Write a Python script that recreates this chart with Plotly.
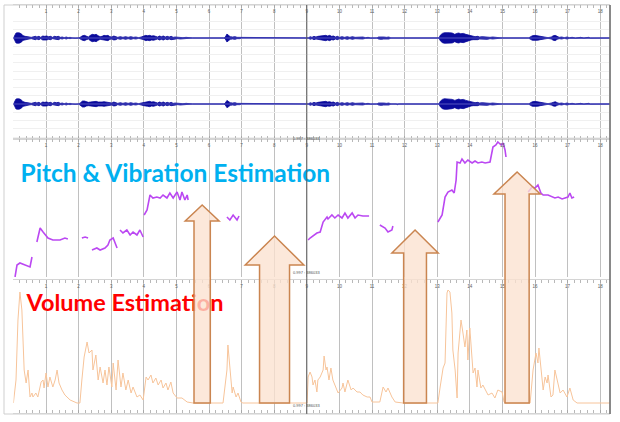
import numpy as np
import plotly.graph_objects as go

# ---------------- data ----------------
# waveform envelope (normalised amplitude) for both channels
wave_t = [0.00, 0.04, 0.08, 0.14, 0.20, 0.26, 0.30, 0.36, 0.42, 0.48,
          0.55, 0.62, 0.68, 0.72, 0.78, 0.84, 0.90, 0.96, 1.02, 1.08,
          1.14, 1.20, 1.26, 1.32, 1.38, 1.44, 1.50, 1.56, 1.62, 1.68,
          1.74, 1.80, 1.90, 2.00, 2.06, 2.12, 2.18, 2.24, 2.30, 2.36,
          2.42, 2.48, 2.54, 2.60, 2.66, 2.72, 2.78, 2.84, 2.90, 2.96,
          3.02, 3.08, 3.14, 3.20, 3.28, 3.36, 3.44, 3.52, 3.60, 3.68,
          3.76, 3.84, 3.92, 4.00, 4.06, 4.12, 4.18, 4.24, 4.30, 4.36,
          4.42, 4.48, 4.54, 4.60, 4.66, 4.72, 4.78, 4.84, 4.90, 4.96,
          5.04, 5.12, 5.20, 5.30, 5.40, 5.50, 6.45, 6.50, 6.55, 6.60,
          6.65, 6.72, 6.80, 6.86, 6.94, 7.00, 9.05, 9.10, 9.16, 9.22,
          9.28, 9.34, 9.40, 9.46, 9.52, 9.58, 9.64, 9.70, 9.76, 9.82,
          9.88, 9.94, 10.00, 10.08, 10.16, 10.24, 10.32, 10.40, 10.48, 10.56,
          10.64, 10.72, 10.80, 10.88, 10.96, 11.15, 11.20, 11.28, 11.36, 11.44,
          11.52, 11.58, 11.74, 11.78, 11.82, 13.05, 13.10, 13.16, 13.22, 13.30,
          13.38, 13.46, 13.54, 13.60, 13.66, 13.72, 13.80, 13.88, 13.96, 14.04,
          14.10, 14.16, 14.24, 14.30, 14.38, 14.46, 14.54, 14.62, 14.70, 14.80,
          14.90, 15.00, 15.80, 15.86, 15.92, 16.00, 16.08, 16.16, 16.22, 16.30,
          16.40, 16.50, 16.56, 16.62, 16.68, 16.74, 16.82, 16.90, 16.98, 17.06,
          17.14, 17.24, 17.40, 17.50, 17.64, 17.70, 18.30]
wave_left = [0, 0.07, 0.15, 0.16, 0.15, 0.11, 0.07, 0.05, 0.04, 0.03,
             0.02, 0.04, 0.05, 0.03, 0.05, 0.02, 0.06, 0.05, 0.06, 0.04,
             0.05, 0.02, 0.05, 0.04, 0.05, 0.02, 0.03, 0.01, 0.03, 0.01,
             0.02, 0, 0.01, 0, 0.03, 0.07, 0.08, 0.05, 0.03, 0.08,
             0.11, 0.10, 0.11, 0.07, 0.04, 0.05, 0.08, 0.07, 0.08, 0.04,
             0.03, 0.06, 0.05, 0.02, 0.04, 0.02, 0.04, 0.02, 0.04, 0.02,
             0.03, 0.01, 0.03, 0.05, 0.08, 0.07, 0.08, 0.06, 0.07, 0.05,
             0.03, 0.06, 0.04, 0.06, 0.03, 0.05, 0.03, 0.05, 0.02, 0.03,
             0.02, 0.03, 0.01, 0.02, 0.01, 0, 0, 0.03, 0.12, 0.08,
             0.04, 0.03, 0.04, 0.02, 0.02, 0, 0, 0.04, 0.02, 0.05,
             0.03, 0.05, 0.06, 0.08, 0.07, 0.08, 0.06, 0.08, 0.05, 0.06,
             0.03, 0.05, 0.02, 0.04, 0.02, 0.04, 0.02, 0.04, 0.02, 0.03,
             0.02, 0.03, 0.01, 0.02, 0, 0, 0.03, 0.04, 0.03, 0.02,
             0.03, 0, 0, 0.02, 0, 0, 0.09, 0.14, 0.16, 0.17,
             0.16, 0.15, 0.11, 0.14, 0.15, 0.13, 0.14, 0.11, 0.09, 0.06,
             0.05, 0.04, 0.05, 0.03, 0.04, 0.03, 0.04, 0.02, 0.03, 0.02,
             0.02, 0, 0, 0.04, 0.07, 0.08, 0.07, 0.05, 0.03, 0.02,
             0.01, 0.03, 0.07, 0.08, 0.04, 0.02, 0.03, 0.01, 0.03, 0.01,
             0.02, 0, 0.02, 0, 0.02, 0, 0]
wave_right = [0, 0.07, 0.15, 0.16, 0.15, 0.11, 0.07, 0.05, 0.04, 0.03,
              0.02, 0.04, 0.05, 0.03, 0.05, 0.02, 0.06, 0.05, 0.06, 0.04,
              0.05, 0.02, 0.05, 0.04, 0.05, 0.02, 0.03, 0.01, 0.03, 0.01,
              0.02, 0, 0.01, 0, 0.04, 0.09, 0.09, 0.06, 0.05, 0.06,
              0.07, 0.07, 0.08, 0.06, 0.05, 0.06, 0.07, 0.06, 0.07, 0.04,
              0.03, 0.06, 0.05, 0.02, 0.04, 0.02, 0.04, 0.02, 0.04, 0.02,
              0.03, 0.01, 0.03, 0.05, 0.07, 0.07, 0.08, 0.06, 0.07, 0.05,
              0.03, 0.06, 0.04, 0.06, 0.03, 0.05, 0.03, 0.05, 0.02, 0.03,
              0.02, 0.03, 0.01, 0.02, 0.01, 0, 0, 0.03, 0.11, 0.08,
              0.04, 0.03, 0.04, 0.02, 0.02, 0, 0, 0.04, 0.02, 0.05,
              0.03, 0.05, 0.06, 0.08, 0.07, 0.08, 0.06, 0.07, 0.05, 0.06,
              0.03, 0.05, 0.02, 0.04, 0.02, 0.04, 0.02, 0.04, 0.02, 0.03,
              0.02, 0.03, 0.01, 0.02, 0, 0, 0.03, 0.04, 0.03, 0.02,
              0.03, 0, 0, 0.02, 0, 0, 0.09, 0.14, 0.16, 0.16,
              0.16, 0.14, 0.11, 0.14, 0.15, 0.13, 0.14, 0.11, 0.09, 0.06,
              0.05, 0.04, 0.05, 0.03, 0.04, 0.03, 0.04, 0.02, 0.03, 0.02,
              0.02, 0, 0, 0.04, 0.07, 0.08, 0.07, 0.05, 0.03, 0.02,
              0.01, 0.03, 0.06, 0.07, 0.04, 0.02, 0.03, 0.01, 0.03, 0.01,
              0.02, 0, 0.02, 0, 0.02, 0, 0]

# pitch contour (None separates voiced segments)
pitch_t = [0.05, 0.11, 0.20, 0.36, 0.51, 0.57, None,
           0.72, 0.82, 0.91, 1.06, 1.21, 1.43, 1.58, 1.67, None,
           2.10, 2.20, 2.29, None,
           2.41, 2.56, 2.66, 2.81, 2.90, 2.96, 3.06, 3.18, None,
           3.27, 3.36, 3.48, 3.58, 3.67, 3.79, 3.88, 3.98, None,
           4.01, 4.10, 4.19, 4.28, 4.40, 4.50, 4.59, 4.71, 4.80, 4.90,
           5.02, 5.11, 5.17, 5.26, 5.33, 5.36, None,
           6.55, 6.64, 6.74, 6.86, 6.92, None,
           9.04, 9.10, 9.31, 9.41, 9.50, 9.62, 9.65, 9.77, 9.86, 9.96,
           10.08, 10.17, 10.26, 10.39, 10.48, 10.57, 10.72, 10.91, None,
           11.24, 11.40, 11.49, 11.61, 11.64, None,
           13.02, 13.15, 13.24, 13.33, 13.45, 13.52, 13.58, 13.61, 13.70, 13.76,
           13.85, 13.94, 14.07, 14.16, 14.25, 14.37, 14.47, 14.62, 14.71, 14.80,
           14.86, 14.96, 15.02, 15.08, 15.11, None,
           15.79, 15.91, 16.00, 16.09, 16.18, 16.25, 16.40, 16.52, 16.61, 16.71,
           16.83, 16.92, 17.01, 17.07, 17.13, 17.20]
pitch_v = [0, 12, 14, 12, 10, 20, None,
           35, 49, 45, 39, 37, 37, 39, 38, None,
           39, 40, 39, None,
           27, 29, 27, 29, 32, 37, 39, 29, None,
           47, 44, 47, 42, 45, 42, 47, 40, None,
           62, 67, 82, 79, 80, 79, 82, 79, 84, 79,
           85, 77, 85, 77, 82, 77, None,
           60, 57, 62, 57, 61, None,
           37, 39, 44, 45, 55, 60, 58, 62, 59, 62,
           59, 64, 59, 64, 59, 62, 61, 61, None,
           52, 49, 45, 47, 51, None,
           55, 62, 80, 85, 87, 84, 97, 115, 114, 118,
           114, 117, 114, 116, 114, 115, 114, 115, 130, 132,
           135, 132, 134, 127, 120, None,
           85, 90, 89, 92, 84, 82, 82, 80, 79, 80,
           78, 79, 80, 84, 79, 80]

# volume envelope
vol_t = [0.0, 0.08, 0.14, 0.20, 0.26, 0.33, 0.39, 0.45, 0.51, 0.57, 0.60, 0.69, 0.75,
         0.85, 0.91, 0.94, 1.00, 1.06, 1.12, 1.21, 1.28, 1.34, 1.40, 1.49, 1.58, 1.74,
         1.95, 2.04, 2.10, 2.17, 2.26, 2.32, 2.41, 2.44, 2.53, 2.60, 2.66, 2.75, 2.81,
         2.87, 2.93, 3.02, 3.06, 3.15, 3.21, 3.30, 3.36, 3.45, 3.52, 3.61, 3.67, 3.79,
         3.88, 3.98, 4.07, 4.13, 4.22, 4.28, 4.37, 4.44, 4.53, 4.59, 4.68, 4.74, 4.83,
         4.90, 5.02, 5.17, 5.33, 5.51, 6.43, 6.55, 6.58, 6.64, 6.71, 6.74, 6.83, 6.89,
         6.98, 7.04, 9.01, 9.04, 9.10, 9.16, 9.19, 9.25, 9.31, 9.34, 9.41, 9.50, 9.53,
         9.59, 9.62, 9.68, 9.74, 9.80, 9.86, 9.96, 10.08, 10.11, 10.17, 10.26, 10.36,
         10.42, 10.54, 10.63, 10.72, 10.85, 10.94, 11.00, 11.24, 11.34, 11.43, 11.49,
         11.61, 11.71, 11.95, 13.02, 13.09, 13.18, 13.24, 13.30, 13.33, 13.39, 13.45,
         13.48, 13.55, 13.61, 13.64, 13.73, 13.79, 13.85, 13.91, 13.94, 14.00, 14.07,
         14.10, 14.16, 14.22, 14.25, 14.34, 14.40, 14.50, 14.56, 14.68, 14.77, 14.86,
         14.99, 15.05, 15.08, 15.85, 15.94, 16.03, 16.09, 16.12, 16.18, 16.25, 16.31,
         16.37, 16.40, 16.49, 16.55, 16.61, 16.68, 16.77, 16.86, 16.98, 17.07, 17.17,
         17.29, 17.78, 18.30]
vol_v = [0, 23, 83, 111, 93, 33, 20, 33, 6, 10, 6, 10, 6,
         21, 23, 15, 30, 16, 26, 16, 23, 33, 20, 13, 8, 3,
         0, 0, 23, 46, 61, 50, 53, 33, 48, 23, 36, 20, 33,
         18, 36, 16, 40, 13, 43, 16, 30, 13, 23, 10, 16, 6,
         8, 3, 26, 23, 28, 20, 25, 18, 23, 15, 20, 13, 21,
         10, 5, 5, 1, 0, 0, 33, 58, 33, 10, 16, 6, 10,
         1, 0, 0, 26, 31, 26, 18, 23, 11, 23, 26, 33, 47,
         33, 36, 23, 35, 23, 18, 10, 15, 20, 11, 23, 13,
         15, 11, 11, 8, 6, 6, 1, 1, 16, 11, 15,
         6, 1, 0, 0, 16, 35, 40, 110, 113, 111, 90,
         53, 33, 5, 50, 83, 70, 56, 73, 43, 75, 36,
         30, 35, 16, 33, 15, 18, 11, 8, 10, 5, 13,
         11, 1, 0, 0, 33, 50, 40, 55, 36, 13, 26,
         20, 28, 6, 8, 33, 23, 10, 13, 6, 15, 3,
         0, 0, 0]

second_ticks = list(range(1, 19))
titles = ["Pitch & Vibration Estimation", "Volume Estimation"]

# highlight arrows: centre (s), head half-width, shaft half-width, tip / head-base / bottom (paper y)
arrow_x = [5.79, 8.01, 12.32, 15.45]
arrow_head_hw = [0.52, 0.90, 0.71, 0.71]
arrow_shaft_hw = [0.25, 0.46, 0.35, 0.37]
arrow_tip = [0.5142, 0.4408, 0.4550, 0.5924]
arrow_head_base = [0.4763, 0.3720, 0.4005, 0.5403]
arrow_bottom = 0.0450

# ---------------- figure ----------------
W, H = 620, 422
XL, XR = 13.4 / W, 610 / W
WAVE_DOM = [1 - 139 / H, 1 - 5 / H]
PITCH_DOM = [1 - 277 / H, 1 - 139 / H]
VOL_DOM = [1 - 413 / H, 1 - 280 / H]
XRANGE = [0, 18.3]

fig = go.Figure()

wt = np.array(wave_t)
WAVE_COLOR = "#0B0B9C"
for centre, amp in ((1.0, wave_left), (-1.0, wave_right)):
    a = np.array(amp)
    fig.add_trace(go.Scatter(
        x=np.concatenate([wt, wt[::-1]]),
        y=np.concatenate([centre + a, (centre - a)[::-1]]),
        fill="toself", fillcolor=WAVE_COLOR, mode="lines",
        line=dict(color=WAVE_COLOR, width=0.8),
        xaxis="x", yaxis="y", hoverinfo="skip", showlegend=False))
    fig.add_trace(go.Scatter(
        x=wt, y=np.full(len(wt), centre), mode="lines",
        line=dict(color="#5555C0", width=1),
        xaxis="x", yaxis="y", hoverinfo="skip", showlegend=False))

fig.add_trace(go.Scatter(
    x=pitch_t, y=pitch_v, mode="lines", connectgaps=False,
    line=dict(color="#BB48F2", width=1.6),
    xaxis="x2", yaxis="y2", showlegend=False))

fig.add_trace(go.Scatter(
    x=vol_t, y=vol_v, mode="lines",
    line=dict(color="#F7C49A", width=1),
    xaxis="x3", yaxis="y3", showlegend=False))

fig.add_trace(go.Scatter(
    x=[0.22], y=[101], text=[titles[0]], mode="text", textposition="middle right",
    textfont=dict(family="Lato", size=24.5, color="#00B0F0", weight="bold"),
    xaxis="x2", yaxis="y2", showlegend=False, cliponaxis=False))
fig.add_trace(go.Scatter(
    x=[0.40], y=[98], text=[titles[1]], mode="text", textposition="middle right",
    textfont=dict(family="Lato", size=23.5, color="#FF0000", weight="bold"),
    xaxis="x3", yaxis="y3", showlegend=False, cliponaxis=False))

xaxis_common = dict(
    range=XRANGE, domain=[XL, XR], side="top",
    tickmode="linear", tick0=0, dtick=1, labelalias={"0": ""},
    showgrid=True, gridcolor="#C0C0C0", gridwidth=1,
    showline=True, linecolor="#D4D4D4", linewidth=1,
    ticks="inside", ticklen=3, tickcolor="#A8A8A8",
    minor=dict(dtick=0.2, tick0=0, ticks="inside", ticklen=3, tickcolor="#B8B8B8", showgrid=False),
    ticklabelposition="inside", tickfont=dict(size=4.5, color="#606060", family="Arial"),
    zeroline=False, fixedrange=True)

fig.update_layout(
    width=W, height=H, margin=dict(l=0, r=0, t=0, b=0),
    paper_bgcolor="white", plot_bgcolor="white",
    xaxis=dict(**xaxis_common, anchor="y", mirror="ticks"),
    xaxis2=dict(**xaxis_common, anchor="y2"),
    xaxis3=dict(**xaxis_common, anchor="y3", mirror="ticks"),
    yaxis=dict(domain=WAVE_DOM, range=[-2.06, 2.0], showgrid=True, gridcolor="#F0F0F0",
               dtick=0.25, showticklabels=False, zeroline=False, ticks="", fixedrange=True),
    yaxis2=dict(domain=PITCH_DOM, range=[0, 138], showgrid=False,
                showticklabels=False, zeroline=False, fixedrange=True),
    yaxis3=dict(domain=VOL_DOM, range=[-10, 123], showgrid=False,
                showticklabels=False, zeroline=False, fixedrange=True),
)

shapes = [
    dict(type="rect", xref="paper", yref="paper", x0=4 / W, x1=XR, y0=1 - 414 / H, y1=1 - 5 / H,
         line=dict(color="#CFCFCF", width=1), layer="below"),
    dict(type="line", xref="paper", yref="paper", x0=XR, x1=XR, y0=1 - 414 / H, y1=1 - 5 / H,
         line=dict(color="#6A6A6A", width=1.5)),
    dict(type="line", xref="x", yref="paper", x0=9, x1=9, y0=1 - 414 / H, y1=1 - 5 / H,
         line=dict(color="#5A5A5A", width=1)),
]
for xc, hw, sw, tip, hb in zip(arrow_x, arrow_head_hw, arrow_shaft_hw, arrow_tip, arrow_head_base):
    path = (f"M {xc - sw} {arrow_bottom} L {xc - sw} {hb} L {xc - hw} {hb} L {xc} {tip} "
            f"L {xc + hw} {hb} L {xc + sw} {hb} L {xc + sw} {arrow_bottom} Z")
    shapes.append(dict(type="path", xref="x", yref="paper", path=path,
                       fillcolor="rgba(251,226,208,0.78)",
                       line=dict(color="#CA8550", width=1.5), layer="above"))
fig.update_layout(shapes=shapes)

for ypx in (134, 272, 410):
    fig.add_annotation(x=9, xref="x", y=1 - ypx / H, yref="paper", text="0.997 : 386033",
                       showarrow=False, font=dict(size=4, color="#505050", family="Arial"))

fig.write_html("out.html", config={"displayModeBar": False, "staticPlot": True},
               post_script="document.body.style.margin='0';"
               "document.body.style.overflow='hidden';")
